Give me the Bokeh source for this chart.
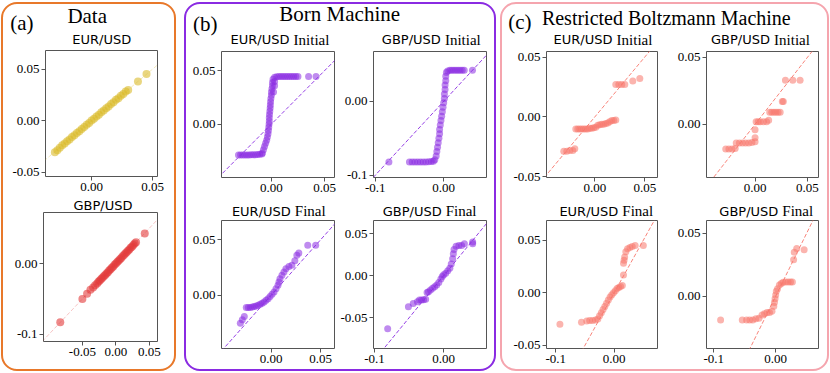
from bokeh.plotting import figure
from bokeh.models import Range1d, FixedTicker, CustomJSTickFormatter, Spacer
from bokeh.layouts import column, row
from bokeh.core.properties import value
from bokeh.embed import file_html
from bokeh.resources import INLINE

SERIF = "Liberation Serif"
SANS = "DejaVu Sans"

# ---------------- data ----------------
# (a) Data : EUR/USD
data_eur_x = [-0.030, -0.028, -0.026, -0.024, -0.022, -0.020, -0.018, -0.016, -0.014, -0.012,
              -0.010, -0.008, -0.006, -0.004, -0.002, 0.000, 0.002, 0.004, 0.006, 0.008,
              0.010, 0.012, 0.014, 0.016, 0.018, 0.020, 0.022, 0.024, 0.026, 0.028, 0.030,
              0.038, 0.045]
data_eur_y = [-0.0305, -0.0285, -0.0262, -0.0238, -0.0221, -0.0199, -0.0182, -0.0158, -0.0141, -0.0118,
              -0.0102, -0.0079, -0.0061, -0.0038, -0.0021, 0.0002, 0.0019, 0.0042, 0.0058, 0.0081,
              0.0099, 0.0122, 0.0138, 0.0161, 0.0179, 0.0202, 0.0218, 0.0241, 0.0259, 0.0282, 0.0298,
              0.0380, 0.0452]
# (a) Data : GBP/USD
data_gbp_x = [-0.083, -0.050, -0.043, -0.038, -0.034, -0.031, -0.028, -0.026, -0.024, -0.022,
              -0.020, -0.018, -0.016, -0.014, -0.012, -0.010, -0.008, -0.006, -0.004, -0.002,
              0.000, 0.002, 0.004, 0.006, 0.008, 0.010, 0.012, 0.014, 0.016, 0.018, 0.020,
              0.022, 0.024, 0.026, 0.028, 0.030, 0.043]
data_gbp_y = [-0.0828, -0.0502, -0.0428, -0.0371, -0.0338, -0.0305, -0.0282, -0.0258, -0.0241, -0.0219,
              -0.0202, -0.0178, -0.0161, -0.0139, -0.0122, -0.0098, -0.0081, -0.0059, -0.0042, -0.0018,
              0.0001, 0.0022, 0.0039, 0.0061, 0.0078, 0.0102, 0.0119, 0.0141, 0.0158, 0.0182, 0.0199,
              0.0221, 0.0238, 0.0262, 0.0281, 0.0299, 0.0425]

# (b) Born Machine : EUR/USD Initial
bm_eur_init_x = [-0.031, -0.029, -0.027, -0.025, -0.023, -0.021, -0.019, -0.017, -0.015, -0.013, -0.011, -0.009,
                 -0.0085, -0.0075, -0.0065, -0.0055, -0.0045, -0.0038, -0.0032, -0.0028, -0.0025, -0.0022,
                 -0.0020, -0.0020, -0.0018, -0.0015, -0.0012, -0.0010, -0.0008, -0.0005, 0.0000, 0.0000,
                 0.0005, 0.0010, 0.0010, 0.0015, 0.0020, 0.0030, 0.0030,
                 0.003, 0.005, 0.007, 0.009, 0.011, 0.013, 0.015, 0.017, 0.019, 0.021, 0.023, 0.025,
                 0.035, 0.042]
bm_eur_init_y = [-0.0290, -0.0290, -0.0290, -0.0290, -0.0290, -0.0290, -0.0288, -0.0288, -0.0286, -0.0285, -0.0283, -0.0280,
                 -0.027, -0.024, -0.021, -0.018, -0.015, -0.012, -0.009, -0.006, -0.003, 0.000,
                 0.003, 0.006, 0.009, 0.012, 0.015, 0.018, 0.021, 0.024, 0.027, 0.030,
                 0.033, 0.036, 0.039, 0.042, 0.030, 0.036, 0.040,
                 0.0440, 0.0443, 0.0445, 0.0445, 0.0445, 0.0446, 0.0446, 0.0446, 0.0446, 0.0447, 0.0447, 0.0447,
                 0.0447, 0.0447]
# (b) Born Machine : GBP/USD Initial
bm_gbp_init_x = [-0.080, -0.050, -0.046, -0.042, -0.038, -0.034, -0.030, -0.026, -0.022, -0.018, -0.015,
                 -0.013, -0.011, -0.010, -0.009, -0.008, -0.007, -0.006, -0.006, -0.005, -0.004, -0.003,
                 -0.002, -0.001, 0.000, 0.001, 0.001, 0.002, 0.002, 0.003, 0.003, 0.004,
                 0.006, 0.009, 0.012, 0.015, 0.018, 0.021, 0.024, 0.027, 0.030, 0.042]
bm_gbp_init_y = [-0.082, -0.082, -0.082, -0.082, -0.082, -0.082, -0.082, -0.082, -0.0818, -0.0815, -0.081,
                 -0.079, -0.074, -0.068, -0.062, -0.056, -0.050, -0.044, -0.038, -0.032, -0.026, -0.020,
                 -0.014, -0.008, -0.002, 0.004, 0.010, 0.016, 0.022, 0.028, 0.034, 0.039,
                 0.041, 0.042, 0.042, 0.042, 0.042, 0.042, 0.042, 0.042, 0.042, 0.042]
# (b) Born Machine : EUR/USD Final
bm_eur_final_x = [-0.031, -0.029, -0.027, -0.025, -0.023, -0.021, -0.019, -0.017, -0.015, -0.013, -0.011,
                  -0.009, -0.007, -0.005, -0.003, -0.001, 0.001, 0.003, 0.005, 0.007, 0.008, 0.009,
                  0.011, 0.013, 0.015, 0.018, 0.021, 0.024, 0.026, 0.028, 0.037, 0.045]
bm_eur_final_y = [-0.025, -0.022, -0.019, -0.011, -0.011, -0.011, -0.0105, -0.010, -0.0095, -0.009, -0.008,
                  -0.007, -0.006, -0.0045, -0.003, -0.001, 0.001, 0.003, 0.006, 0.009, 0.012, 0.015,
                  0.018, 0.021, 0.024, 0.026, 0.027, 0.031, 0.036, 0.038, 0.045, 0.045]
# (b) Born Machine : GBP/USD Final
bm_gbp_final_x = [-0.081, -0.051, -0.044, -0.038, -0.035, -0.032, -0.029, -0.026, -0.024, -0.022, -0.019,
                  -0.016, -0.013, -0.010, -0.007, -0.004, -0.002, 0.000, 0.003, 0.006, 0.009, 0.011,
                  0.013, 0.014, 0.015, 0.018, 0.022, 0.026, 0.030, 0.042, 0.042]
bm_gbp_final_y = [-0.063, -0.037, -0.033, -0.031, -0.029, -0.029, -0.0285, -0.028, -0.020, -0.019, -0.017,
                  -0.015, -0.013, -0.011, -0.008, -0.004, -0.001, 0.001, 0.003, 0.006, 0.009, 0.014,
                  0.020, 0.026, 0.031, 0.035, 0.036, 0.036, 0.038, 0.040, 0.038]

# (c) RBM : EUR/USD Initial
rbm_eur_init_x = [-0.031, -0.028, -0.025, -0.022, -0.020, -0.019, -0.017, -0.015, -0.013, -0.011, -0.009,
                  -0.007, -0.005, -0.003, -0.001, 0.001, 0.003, 0.005, 0.007, 0.009, 0.011, 0.013,
                  0.015, 0.017, 0.019, 0.021, 0.021, 0.024, 0.027, 0.030, 0.038, 0.045]
rbm_eur_init_y = [-0.0285, -0.0285, -0.028, -0.028, -0.0265, -0.010, -0.010, -0.010, -0.010, -0.010, -0.010,
                  -0.010, -0.0095, -0.0095, -0.009, -0.0085, -0.007, -0.0065, -0.006, -0.006, -0.0055, -0.005,
                  -0.004, -0.003, -0.003, -0.0025, 0.027, 0.027, 0.027, 0.027, 0.030, 0.032]
# (c) RBM : GBP/USD Initial
rbm_gbp_init_x = [-0.028, -0.025, -0.022, -0.019, -0.018, -0.015, -0.012, -0.009, -0.006, -0.003, 0.000,
                  0.000, 0.000, 0.001, 0.003, 0.005, 0.008, 0.011, 0.013, 0.014, 0.016, 0.018,
                  0.020, 0.022, 0.024, 0.026, 0.027, 0.029, 0.036, 0.043]
rbm_gbp_init_y = [-0.0185, -0.0185, -0.0185, -0.018, -0.014, -0.014, -0.014, -0.014, -0.014, -0.0135, -0.013,
                  -0.010, -0.004, 0.002, 0.002, 0.002, 0.002, 0.002, 0.003, 0.009, 0.009, 0.009,
                  0.009, 0.009, 0.009, 0.017, 0.017, 0.033, 0.033, 0.033]
# (c) RBM : EUR/USD Final
rbm_eur_final_x = [-0.093, -0.056, -0.047, -0.042, -0.037, -0.032, -0.028, -0.025, -0.022, -0.019, -0.016,
                   -0.013, -0.010, -0.007, -0.004, -0.001, 0.002, 0.005, 0.008, 0.011, 0.014, 0.016,
                   0.016, 0.017, 0.018, 0.020, 0.023, 0.027, 0.031, 0.036, 0.050]
rbm_eur_final_y = [-0.030, -0.028, -0.027, -0.0265, -0.0265, -0.026, -0.025, -0.022, -0.019, -0.016, -0.013,
                   -0.010, -0.007, -0.004, -0.002, 0.000, 0.002, 0.004, 0.005, 0.006, 0.007, 0.017,
                   0.028, 0.031, 0.034, 0.039, 0.042, 0.043, 0.044, 0.045, 0.045]
# (c) RBM : GBP/USD Final
rbm_gbp_final_x = [-0.089, -0.054, -0.047, -0.042, -0.037, -0.032, -0.027, -0.022, -0.018, -0.014, -0.010,
                   -0.006, -0.003, -0.002, -0.001, 0.000, 0.001, 0.003, 0.006, 0.009, 0.012, 0.016,
                   0.020, 0.024, 0.027, 0.029, 0.030, 0.034, 0.046]
rbm_gbp_final_y = [-0.019, -0.019, -0.019, -0.019, -0.019, -0.018, -0.0175, -0.015, -0.014, -0.013, -0.013,
                   -0.012, -0.008, -0.005, -0.002, 0.001, 0.004, 0.006, 0.009, 0.010, 0.011, 0.0112,
                   0.0112, 0.0112, 0.0112, 0.029, 0.035, 0.038, 0.037]

# axis ranges and tick values
axes_cfg = {
    "a1": dict(xr=(-0.0377, 0.054), yr=(-0.054, 0.068), xt=[0.0, 0.05], yt=[-0.05, 0.0, 0.05]),
    "a2": dict(xr=(-0.108, 0.062), yr=(-0.11, 0.072), xt=[-0.05, 0.0, 0.05], yt=[-0.1, 0.0]),
    "b1l": dict(xr=(-0.047, 0.0594), yr=(-0.050, 0.068), xt=[0.0, 0.05], yt=[0.0, 0.05]),
    "b1r": dict(xr=(-0.1025, 0.0625), yr=(-0.103, 0.0674), xt=[-0.1, 0.0], yt=[-0.1, 0.0]),
    "b2l": dict(xr=(-0.050, 0.064), yr=(-0.0478, 0.0673), xt=[0.0, 0.05], yt=[0.0, 0.05]),
    "b2r": dict(xr=(-0.1015, 0.062), yr=(-0.0865, 0.0656), xt=[-0.1, 0.0], yt=[-0.05, 0.0, 0.05]),
    "c1l": dict(xr=(-0.0483, 0.0627), yr=(-0.0505, 0.0546), xt=[0.0, 0.05], yt=[-0.05, 0.0, 0.05]),
    "c1r": dict(xr=(-0.0464, 0.0606), yr=(-0.0397, 0.0544), xt=[0.0, 0.05], yt=[0.0, 0.05]),
    "c2l": dict(xr=(-0.116, 0.0743), yr=(-0.0531, 0.0688), xt=[-0.1, 0.0], yt=[-0.05, 0.0, 0.05]),
    "c2r": dict(xr=(-0.1118, 0.0692), yr=(-0.0416, 0.0602), xt=[-0.1, 0.0], yt=[0.0, 0.05]),
}

YELLOW = "#dbbb2b"
RED = "#e23b3b"
PURPLE = "#8a2be2"
SALMON = "#f7776b"
ORANGE_BOX = "#e8782a"
PURPLE_BOX = "#8a2be2"
PINK_BOX = "#f5a5ae"

FMT = "return Math.abs(tick) > 0.075 ? tick.toFixed(1) : tick.toFixed(2);"


def subplot(key, w, h, left, right, top, bottom, xs, ys, color, size, alpha, dash_alpha):
    cfg = axes_cfg[key]
    xr, yr = cfg["xr"], cfg["yr"]
    p = figure(width=w, height=h, title=None, x_range=Range1d(*xr), y_range=Range1d(*yr),
               output_backend="svg", toolbar_location=None,
               min_border_left=left, min_border_right=right, min_border_top=top, min_border_bottom=bottom,
               background_fill_color="white", border_fill_color=None,
               outline_line_color="#555555", outline_line_width=1)
    p.xgrid.visible = False
    p.ygrid.visible = False
    for ax, ticks in ((p.xaxis[0], cfg["xt"]), (p.yaxis[0], cfg["yt"])):
        ax.ticker = FixedTicker(ticks=ticks)
        ax.formatter = CustomJSTickFormatter(code=FMT)
        ax.axis_line_color = None
        ax.major_tick_line_color = "#555555"
        ax.major_tick_out = 4
        ax.major_tick_in = 0
        ax.minor_tick_line_color = None
        ax.major_label_standoff = 2
        ax.major_label_text_font = SERIF
        ax.major_label_text_font_size = "13px"
        ax.major_label_text_color = "black"
    lo = min(xr[0], yr[0])
    hi = max(xr[1], yr[1])
    p.line([lo, hi], [lo, hi], line_color=color, line_dash="4 2", line_width=1, line_alpha=dash_alpha)
    p.scatter(xs, ys, size=size, fill_color=color, fill_alpha=alpha, line_color=None)
    return p


def put_text(p, x, y, t, font, size, align):
    p.text(x=[x], y=[y], text=[t], text_font=value(font), text_font_size=value(size),
           text_align=value(align), text_baseline=value("middle"), text_color=value("black"))


def put_title(p, sans, serif, cx, y):
    if serif is None:
        put_text(p, cx, y, sans, SANS, "13px", "center")
        return
    off = {"Initial": (9.5, 13.6), "Final": (12.0, 16.0)}[serif]
    put_text(p, cx + off[0], y, sans, SANS, "13px", "right")
    put_text(p, cx + off[1], y, serif, SERIF, "15px", "left")


def strip(w, h):
    p = figure(width=w, height=h, title=None, x_range=Range1d(0, w), y_range=Range1d(0, h),
               x_axis_type=None, y_axis_type=None, min_border=0, output_backend="svg",
               toolbar_location=None, outline_line_color=None,
               background_fill_color=None, border_fill_color=None)
    p.grid.visible = False
    return p


def header(w, letter, letter_right, letter_y, heading, heading_x, heading_y, heading_size, titles, title_y):
    p = strip(w, 45)
    put_text(p, letter_right, letter_y, letter, SERIF, "21px", "right")
    put_text(p, heading_x, heading_y, heading, SERIF, heading_size, "center")
    for sans, serif, cx in titles:
        put_title(p, sans, serif, cx, title_y)
    return p


def title_strip(w, h, titles, y):
    p = strip(w, h)
    for sans, serif, cx in titles:
        put_title(p, sans, serif, cx, y)
    return p


def box_style(color):
    return {"outline": f"2px solid {color}", "outline-offset": "-2px", "border-radius": "16px"}


# ---------------- panel (a) ----------------
hdr_a = header(175, "(a)", 32, 25, "Data", 85.7, 31.5, "21px", [("EUR/USD", None, 100.3)], 8)
a1 = subplot("a1", 175, 149, 44, 19, 3, 20, data_eur_x, data_eur_y, YELLOW, 8, 0.6, 0.3)
ts_a = title_strip(175, 16, [("GBP/USD", None, 101.5)], 7.5)
a2 = subplot("a2", 175, 159, 42, 19, 0, 30, data_gbp_x, data_gbp_y, RED, 8, 0.6, 0.3)
# each piece wrapped in its own row so that Bokeh does not align their frames
box_a = column(row(hdr_a, spacing=0), row(a1, spacing=0), row(ts_a, spacing=0), row(a2, spacing=0),
               spacing=0, styles=box_style(ORANGE_BOX))

# ---------------- panel (b) ----------------
hdr_b = header(312, "(b)", 33, 24, "Born Machine", 155.2, 33.7, "21px",
               [("EUR/USD", "Initial", 95.5), ("GBP/USD", "Initial", 246.8)], 8)
b1l = subplot("b1l", 153, 152, 37, 3, 4, 22, bm_eur_init_x, bm_eur_init_y, PURPLE, 7, 0.55, 0.9)
b1r = subplot("b1r", 159, 152, 36, 10, 4, 22, bm_gbp_init_x, bm_gbp_init_y, PURPLE, 7, 0.55, 0.9)
ts_b = title_strip(312, 19, [("EUR/USD", "Final", 94.3), ("GBP/USD", "Final", 245.2)], 7.5)
b2l = subplot("b2l", 153, 153, 37, 3, 2, 23, bm_eur_final_x, bm_eur_final_y, PURPLE, 7, 0.55, 0.9)
b2r = subplot("b2r", 159, 153, 36, 10, 2, 23, bm_gbp_final_x, bm_gbp_final_y, PURPLE, 7, 0.55, 0.9)
box_b = column(row(hdr_b, spacing=0), row(b1l, b1r, spacing=0), row(ts_b, spacing=0),
               row(b2l, b2r, spacing=0), spacing=0, styles=box_style(PURPLE_BOX))

# ---------------- panel (c) ----------------
hdr_c = header(329, "(c)", 31, 25.5, "Restricted Boltzmann Machine", 165.8, 30, "20px",
               [("EUR/USD", "Initial", 102.5), ("GBP/USD", "Initial", 260)], 8)
c1l = subplot("c1l", 161, 152, 46, 4, 4, 22, rbm_eur_init_x, rbm_eur_init_y, SALMON, 7, 0.55, 0.9)
c1r = subplot("c1r", 168, 152, 45, 11, 4, 22, rbm_gbp_init_x, rbm_gbp_init_y, SALMON, 7, 0.55, 0.9)
ts_c = title_strip(329, 19, [("EUR/USD", "Final", 105.8), ("GBP/USD", "Final", 265.8)], 7.5)
c2l = subplot("c2l", 161, 153, 46, 4, 2, 23, rbm_eur_final_x, rbm_eur_final_y, SALMON, 7, 0.55, 0.9)
c2r = subplot("c2r", 168, 153, 45, 11, 2, 23, rbm_gbp_final_x, rbm_gbp_final_y, SALMON, 7, 0.55, 0.9)
box_c = column(row(hdr_c, spacing=0), row(c1l, c1r, spacing=0), row(ts_c, spacing=0),
               row(c2l, c2r, spacing=0), spacing=0, styles=box_style(PINK_BOX))

boxes = row(Spacer(width=1, height=10), box_a, Spacer(width=8, height=10), box_b,
            Spacer(width=4, height=10), box_c, spacing=0)
root = column(Spacer(width=10, height=2), boxes, spacing=0)

open("out.html", "w").write(file_html(root, INLINE))
